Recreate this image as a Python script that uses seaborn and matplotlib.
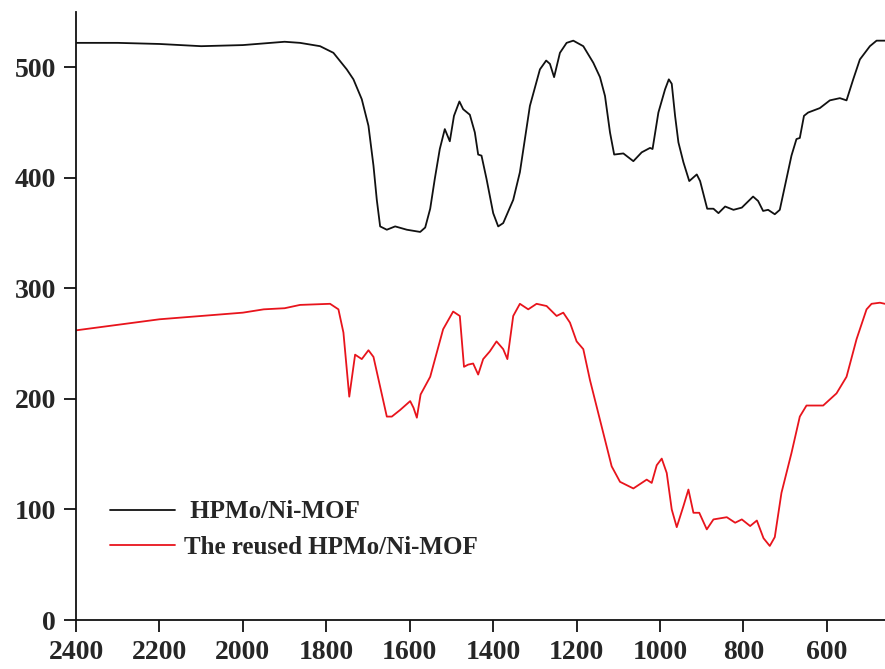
import numpy as np
import pandas as pd
import matplotlib
matplotlib.use("Agg")
import matplotlib.pyplot as plt
import seaborn as sns

# FT-IR spectra (wavenumber, cm-1 -> intensity)
fresh_wn = [2400, 2300, 2200, 2100, 2000, 1900, 1863, 1815, 1783, 1751, 1735, 1715,
            1699, 1687, 1679, 1671, 1655, 1635, 1607, 1575, 1563, 1551, 1540, 1528,
            1516, 1504, 1494, 1481, 1472, 1456, 1444, 1436, 1428, 1416, 1400, 1388,
            1376, 1352, 1336, 1312, 1288, 1273, 1264, 1254, 1240, 1224, 1208, 1184,
            1160, 1144, 1132, 1120, 1110, 1088, 1064, 1044, 1024, 1018, 1004, 988,
            979, 972, 964, 956, 944, 930, 912, 904, 887, 872, 860, 844, 824, 804,
            777, 765, 753, 741, 725, 713, 701, 685, 673, 665, 655, 645, 617, 593,
            569, 553, 537, 521, 497, 481, 461]
fresh_val = [522, 522, 521, 519, 520, 523, 522, 519, 513, 498, 489, 471,
             447, 411, 380, 356, 353, 356, 353, 351, 355, 372, 399, 426,
             444, 433, 456, 469, 462, 457, 441, 421, 420, 399, 368, 356,
             359, 380, 405, 465, 498, 506, 503, 491, 513, 522, 524, 519,
             504, 491, 474, 441, 421, 422, 415, 423, 427, 426, 459, 480,
             489, 485, 456, 432, 414, 397, 403, 397, 372, 372, 368, 374, 371, 373,
             383, 379, 370, 371, 367, 371, 392, 420, 435, 436, 456, 459, 463, 470,
             472, 470, 489, 507, 519, 524, 524]

reused_wn = [2400, 2300, 2200, 2100, 2000, 1950, 1900, 1863, 1791, 1771, 1759, 1745,
             1731, 1715, 1699, 1687, 1671, 1655, 1643, 1623, 1599, 1591, 1583, 1574,
             1551, 1520, 1496, 1480, 1470, 1460, 1448, 1436, 1424, 1408, 1392, 1376,
             1366, 1352, 1336, 1316, 1296, 1272, 1248, 1232, 1216, 1200, 1184, 1168,
             1152, 1144, 1132, 1116, 1096, 1064, 1032, 1020, 1008, 996, 984, 972,
             960, 944, 932, 920, 906, 888, 872, 840, 820, 804, 784, 768, 752, 737,
             725, 709, 685, 665, 649, 609, 577, 553, 529, 505, 493, 473, 461]
reused_val = [262, 267, 272, 275, 278, 281, 282, 285, 286, 281, 260, 202,
              240, 236, 244, 238, 211, 184, 184, 190, 198, 192, 183, 204,
              220, 263, 279, 275, 229, 231, 232, 222, 236, 243, 252, 245,
              236, 275, 286, 281, 286, 284, 275, 278, 269, 252, 245, 217,
              193, 181, 163, 139, 125, 119, 127, 124, 140, 146, 133, 100,
              84, 103, 118, 97, 97, 82, 91, 93, 88, 91, 85, 90, 74, 67,
              75, 115, 151, 184, 194, 194, 205, 220, 254, 281, 286, 287, 286]

labels = [" HPMo/Ni-MOF", "The reused HPMo/Ni-MOF"]
x_ticks = [2400, 2200, 2000, 1800, 1600, 1400, 1200, 1000, 800, 600]
y_ticks = [0, 100, 200, 300, 400, 500]

df = pd.concat([
    pd.DataFrame({"wn": fresh_wn, "val": fresh_val, "sample": labels[0]}),
    pd.DataFrame({"wn": reused_wn, "val": reused_val, "sample": labels[1]}),
])

sns.set_style("ticks")
plt.rcParams["font.family"] = ["Liberation Serif", "DejaVu Serif"]

fig = plt.figure(figsize=(8.85, 6.69), dpi=100)
ax = fig.add_axes([0.0859, 0.0732, 0.914, 0.909])

sns.lineplot(data=df, x="wn", y="val", hue="sample", sort=False, estimator=None,
             palette={labels[0]: "#111111", labels[1]: "#e8141c"}, linewidth=1.3, ax=ax)

ax.set_xlim(2400, 461)
ax.set_ylim(0, 550)
ax.set_xticks(x_ticks)
ax.set_yticks(y_ticks)
ax.set_xlabel("")
ax.set_ylabel("")
for s in ["top", "right"]:
    ax.spines[s].set_visible(False)
for s in ["left", "bottom"]:
    ax.spines[s].set_linewidth(1.3)
    ax.spines[s].set_color("#111111")
ax.tick_params(direction="out", length=8.5, width=1.3, color="#111111",
               labelsize=20, pad=6)
for t in ax.get_xticklabels() + ax.get_yticklabels():
    t.set_fontweight("bold")

leg = ax.legend(loc="upper left", bbox_to_anchor=(97 / 885, 1 - 488 / 669),
                bbox_transform=fig.transFigure, frameon=False, borderpad=0,
                handlelength=2.6, handletextpad=0.4, labelspacing=0.5,
                prop={"family": ["Liberation Serif"], "weight": "bold", "size": 18})

fig.savefig("out.png", dpi=100)
